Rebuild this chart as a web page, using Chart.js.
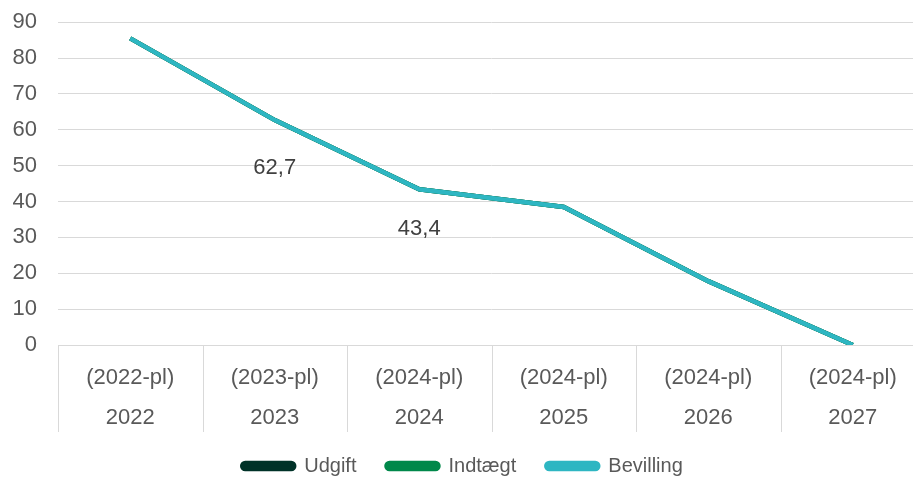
<!DOCTYPE html>
<html>
<head>
<meta charset="utf-8">
<script src="https://cdn.jsdelivr.net/npm/chart.js@4"></script>
<style>
  html, body { margin: 0; padding: 0; background: #fff; overflow: hidden; }
  #wrap { width: 925px; height: 498px; margin-top: -12px; }
</style>
</head>
<body>
<div id="wrap"><canvas id="lineChart"></canvas></div>
<script>
const years = ["2022", "2023", "2024", "2025", "2026", "2027"];
const priceLevels = ["(2022-pl)", "(2023-pl)", "(2024-pl)", "(2024-pl)", "(2024-pl)", "(2024-pl)"];
const udgift = [85.5, 62.7, 43.4, 38.5, 17.8, 0];
const indtaegt = [85.5, 62.7, 43.4, 38.5, 17.8, 0];
const bevilling = [85.5, 62.7, 43.4, 38.5, 17.8, 0];
// only two points carry a visible label in the original
const shownLabels = [null, "62,7", "43,4", null, null, null];
const yTicks = [0, 10, 20, 30, 40, 50, 60, 70, 80, 90];

const textColor = "#595959";
const gridColor = "#d9d9d9";
const fontFamily = "'Liberation Sans', Arial, sans-serif";

// data labels under the points + category separators under the axis
const extras = {
    id: "extras",
    afterDatasetsDraw(chart) {
        const ctx = chart.ctx;
        const meta = chart.getDatasetMeta(2);
        const drop = [0, 48, 40, 0, 0, 0];
        ctx.save();
        ctx.font = "22px " + fontFamily;
        ctx.fillStyle = "#404040";
        ctx.textAlign = "center";
        ctx.textBaseline = "middle";
        shownLabels.forEach((txt, i) => {
            if (!txt) return;
            const p = meta.data[i];
            ctx.fillText(txt, p.x, p.y + drop[i]);
        });
        ctx.restore();
    },
    afterDraw(chart) {
        const ctx = chart.ctx;
        const x = chart.scales.x;
        ctx.save();
        ctx.strokeStyle = gridColor;
        ctx.lineWidth = 1;
        for (let i = 0; i <= years.length; i++) {
            const px = Math.round(x.getPixelForValue(i - 0.5)) + 0.5;
            ctx.beginPath();
            ctx.moveTo(px, x.top);
            ctx.lineTo(px, x.top + 87);
            ctx.stroke();
        }
        ctx.restore();
    }
};

const data = {
    labels: years.map((y, i) => [priceLevels[i], y]),
    datasets: [
        { label: "Udgift", data: udgift, borderColor: "#003228", backgroundColor: "#003228", order: 3 },
        { label: "Indtægt", data: indtaegt, borderColor: "#00884A", backgroundColor: "#00884A", order: 2 },
        { label: "Bevilling", data: bevilling, borderColor: "#2EB6C2", backgroundColor: "#2EB6C2", order: 1 }
    ].map(ds => Object.assign(ds, { borderWidth: 4.5, pointRadius: 0, tension: 0, fill: false }))
};

const config = {
    type: "line",
    data: data,
    options: {
        responsive: true,
        maintainAspectRatio: false,
        animation: false,
        layout: { padding: { top: 10, right: 0, left: 0, bottom: 0 } },
        scales: {
            x: {
                offset: true,
                grid: { display: false },
                border: { color: gridColor },
                afterFit: axis => { axis.height = 81; },
                ticks: {
                    color: textColor,
                    font: { family: fontFamily, size: 22, lineHeight: 1.82 },
                    padding: 5,
                    maxRotation: 0
                }
            },
            y: {
                min: 0,
                max: 90,
                afterBuildTicks: axis => { axis.ticks = yTicks.map(v => ({ value: v })); },
                afterFit: axis => { axis.width = 58; },
                grid: { color: gridColor, drawTicks: false },
                border: { display: false },
                ticks: {
                    color: textColor,
                    font: { family: fontFamily, size: 22 },
                    padding: 21
                }
            }
        },
        plugins: {
            legend: {
                position: "bottom",
                labels: {
                    color: textColor,
                    font: { family: fontFamily, size: 20 },
                    boxWidth: 52,
                    boxHeight: 6,
                    useBorderRadius: true,
                    borderRadius: 3,
                    padding: 30,
                    sort: (a, b) => a.datasetIndex - b.datasetIndex
                }
            },
            tooltip: { enabled: false }
        }
    },
    plugins: [extras]
};

const ctx = document.getElementById("lineChart").getContext("2d");
new Chart(ctx, config);
</script>
</body>
</html>
